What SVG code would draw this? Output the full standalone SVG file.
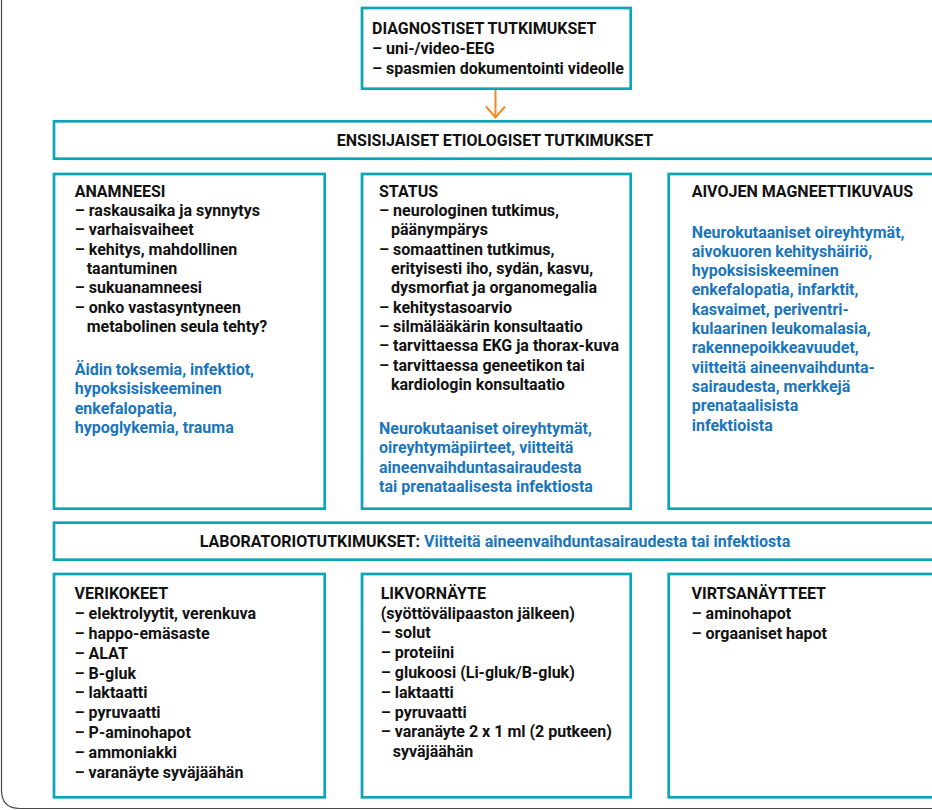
<svg xmlns="http://www.w3.org/2000/svg" width="932" height="810" viewBox="0 0 932 810">
  <defs>
    <style>
      .box { fill: #ffffff; stroke: #0ba6b6; stroke-width: 2.7; }
      .frame { fill: none; stroke: #4a4a4a; stroke-width: 1.2; }
      .t { font-family: Roboto, "Liberation Sans", sans-serif; font-weight: 700; font-size: 16px; fill: #111111; }
      .b { fill: #1b75bb; }
      .link { fill: none; stroke: #f28a24; stroke-width: 2; }
    </style>
  </defs>

  <rect width="932" height="810" fill="#ffffff"/>

  <!-- page frame, only the left and bottom edges fall inside the view -->
  <path class="frame" d="M1.5,-20 V790 Q1.5,808.5 20,808.5 H960"/>

  <g id="connectors">
    <path class="link" d="M495.5,90 V117"/>
    <path class="link" d="M486,106.5 L495.5,117.5 L505,106.5"/>
  </g>

  <g id="diagnostiset">
    <rect class="box" x="362" y="8" width="268.7" height="80.7"/>
    <text class="t" x="372" y="34.3">DIAGNOSTISET TUTKIMUKSET</text>
    <text class="t" x="372" y="54">– uni-/video-EEG</text>
    <text class="t" x="372" y="73.5">– spasmien dokumentointi videolle</text>
  </g>

  <g id="ensisijaiset">
    <rect class="box" x="54" y="121.3" width="900" height="37.4"/>
    <text class="t" x="495" y="145.5" text-anchor="middle">ENSISIJAISET ETIOLOGISET TUTKIMUKSET</text>
  </g>

  <g id="anamneesi">
    <rect class="box" x="54" y="174" width="270.7" height="334.7"/>
    <text class="t" x="74.7" y="196.7">ANAMNEESI</text>
    <text class="t" x="74.7" y="216">– raskausaika ja synnytys</text>
    <text class="t" x="74.7" y="235.3">– varhaisvaiheet</text>
    <text class="t" x="74.7" y="254.6">– kehitys, mahdollinen</text>
    <text class="t" x="86.7" y="274">taantuminen</text>
    <text class="t" x="74.7" y="293.3">– sukuanamneesi</text>
    <text class="t" x="74.7" y="312.6">– onko vastasyntyneen</text>
    <text class="t" x="86.7" y="332">metabolinen seula tehty?</text>
    <text class="t b" x="74.7" y="375">Äidin toksemia, infektiot,</text>
    <text class="t b" x="74.7" y="394.3">hypoksisiskeeminen</text>
    <text class="t b" x="74.7" y="413.6">enkefalopatia,</text>
    <text class="t b" x="74.7" y="433">hypoglykemia, trauma</text>
  </g>

  <g id="status">
    <rect class="box" x="362" y="174" width="268.7" height="334.7"/>
    <text class="t" x="379" y="196.7">STATUS</text>
    <text class="t" x="379" y="216">– neurologinen tutkimus,</text>
    <text class="t" x="391" y="235.3">päänympärys</text>
    <text class="t" x="379" y="254.6">– somaattinen tutkimus,</text>
    <text class="t" x="391" y="274">erityisesti iho, sydän, kasvu,</text>
    <text class="t" x="391" y="293.3">dysmorfiat ja organomegalia</text>
    <text class="t" x="379" y="312.6">– kehitystasoarvio</text>
    <text class="t" x="379" y="332">– silmälääkärin konsultaatio</text>
    <text class="t" x="379" y="351.3">– tarvittaessa EKG ja thorax-kuva</text>
    <text class="t" x="379" y="370.6">– tarvittaessa geneetikon tai</text>
    <text class="t" x="391" y="390">kardiologin konsultaatio</text>
    <text class="t b" x="379" y="434">Neurokutaaniset oireyhtymät,</text>
    <text class="t b" x="379" y="453.3">oireyhtymäpiirteet, viitteitä</text>
    <text class="t b" x="379" y="472.6">aineenvaihduntasairaudesta</text>
    <text class="t b" x="379" y="492">tai prenataalisesta infektiosta</text>
  </g>

  <g id="magneettikuvaus">
    <rect class="box" x="668.7" y="174" width="300" height="334.7"/>
    <text class="t" x="691.7" y="196.7">AIVOJEN MAGNEETTIKUVAUS</text>
    <text class="t b" x="691.7" y="237.5">Neurokutaaniset oireyhtymät,</text>
    <text class="t b" x="691.7" y="256.8">aivokuoren kehityshäiriö,</text>
    <text class="t b" x="691.7" y="276.1">hypoksisiskeeminen</text>
    <text class="t b" x="691.7" y="295.4">enkefalopatia, infarktit,</text>
    <text class="t b" x="691.7" y="314.7">kasvaimet, periventri-</text>
    <text class="t b" x="691.7" y="334">kulaarinen leukomalasia,</text>
    <text class="t b" x="691.7" y="353.3">rakennepoikkeavuudet,</text>
    <text class="t b" x="691.7" y="372.6">viitteitä aineenvaihdunta-</text>
    <text class="t b" x="691.7" y="391.9">sairaudesta, merkkejä</text>
    <text class="t b" x="691.7" y="411.2">prenataalisista</text>
    <text class="t b" x="691.7" y="430.5">infektioista</text>
  </g>

  <g id="laboratoriotutkimukset">
    <rect class="box" x="54" y="522.7" width="900" height="37"/>
    <text class="t" x="495" y="546.5" text-anchor="middle">LABORATORIOTUTKIMUKSET: <tspan class="b">Viitteitä aineenvaihduntasairaudesta tai infektiosta</tspan></text>
  </g>

  <g id="verikokeet">
    <rect class="box" x="54" y="574" width="270.7" height="223.3"/>
    <text class="t" x="74.5" y="599.3">VERIKOKEET</text>
    <text class="t" x="74.5" y="619.1">– elektrolyytit, verenkuva</text>
    <text class="t" x="74.5" y="638.9">– happo-emäsaste</text>
    <text class="t" x="74.5" y="658.7">– ALAT</text>
    <text class="t" x="74.5" y="678.5">– B-gluk</text>
    <text class="t" x="74.5" y="698.3">– laktaatti</text>
    <text class="t" x="74.5" y="718.1">– pyruvaatti</text>
    <text class="t" x="74.5" y="737.9">– P-aminohapot</text>
    <text class="t" x="74.5" y="757.7">– ammoniakki</text>
    <text class="t" x="74.5" y="777.5">– varanäyte syväjäähän</text>
  </g>

  <g id="likvornayte">
    <rect class="box" x="362" y="574" width="268.7" height="223.3"/>
    <text class="t" x="380.7" y="598.7">LIKVORNÄYTE</text>
    <text class="t" x="380.7" y="618.5">(syöttövälipaaston jälkeen)</text>
    <text class="t" x="380.7" y="638.3">– solut</text>
    <text class="t" x="380.7" y="658.1">– proteiini</text>
    <text class="t" x="380.7" y="677.9">– glukoosi (Li-gluk/B-gluk)</text>
    <text class="t" x="380.7" y="697.7">– laktaatti</text>
    <text class="t" x="380.7" y="717.5">– pyruvaatti</text>
    <text class="t" x="380.7" y="737.3">– varanäyte 2 x 1 ml (2 putkeen)</text>
    <text class="t" x="392.7" y="757.1">syväjäähän</text>
  </g>

  <g id="virtsanaytteet">
    <rect class="box" x="668.7" y="574" width="300" height="223.3"/>
    <text class="t" x="691.5" y="599.3">VIRTSANÄYTTEET</text>
    <text class="t" x="691.5" y="619.1">– aminohapot</text>
    <text class="t" x="691.5" y="638.9">– orgaaniset hapot</text>
  </g>
</svg>
